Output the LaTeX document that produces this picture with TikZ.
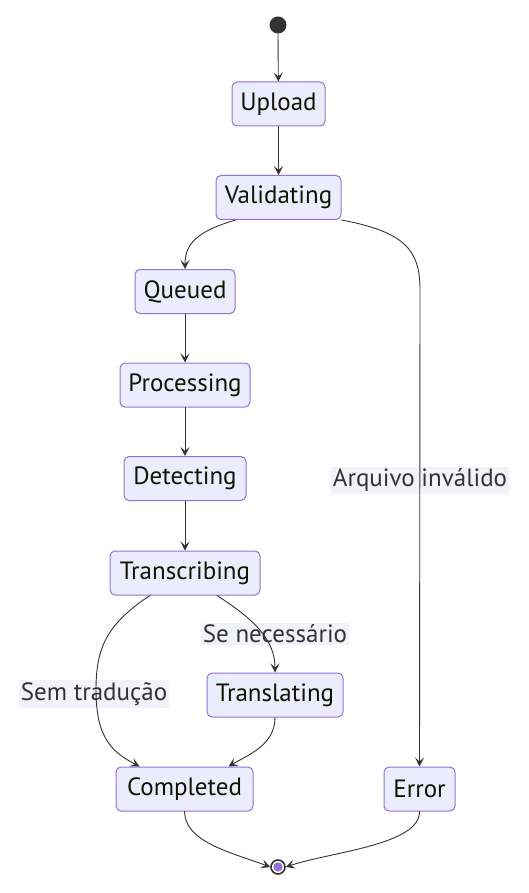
\documentclass[tikz,border=0pt]{standalone}
\usepackage{fontspec}
\setmainfont{PT Sans}
\usepackage{tikz}
\usetikzlibrary{arrows.meta}
\definecolor{nodefill}{HTML}{ECECFF}
\definecolor{nodeline}{HTML}{9370DB}
\definecolor{edgeline}{HTML}{333333}
\definecolor{lblfill}{HTML}{F2F2FA}
\definecolor{txt}{HTML}{131300}
\begin{document}
\begin{tikzpicture}[line cap=round,line join=round,x=1pt,y=-1pt,
  >={Stealth[length=9pt,width=9pt,inset=4pt]},
  state/.style={draw=nodeline,fill=nodefill,line width=1pt,rounded corners=5pt,
    minimum height=44pt,inner sep=0pt,text=txt,font=\fontsize{25}{29}\selectfont},
  lbl/.style={fill=lblfill,inner sep=2pt,text=edgeline,font=\fontsize{25}{29}\selectfont},
  edge/.style={->,draw=edgeline,line width=0.9pt}]
\useasboundingbox (0,0) rectangle (528,893);
% states
\foreach \nm/\cx/\cy/\w/\txt in {upload/278.5/104/93/Upload,valid/278.5/197.5/125/Validating,
  queued/185/291.5/100/Queued,proc/185/385/130/Processing,detect/185/478.5/122/Detecting,
  trans/185/573/150/Transcribing,transl/275/695/136/Translating,compl/184.5/789/137/Completed,
  error/419.5/789/71/Error}
  \node[state,minimum width=\w] (\nm) at (\cx,\cy) {\txt};
\fill[edgeline] (278,25) circle (8.5);
\coordinate (start) at (278,33.5);
\node[circle,draw=edgeline,line width=1.6pt,fill=white,minimum size=14pt,inner sep=0pt] (end) at (278,867) {};
\fill[nodeline] (end) circle (4.6);
% edge labels
\node[lbl] (lerr) at (420,480) {Arquivo inválido};
\node[lbl] (lnec) at (275,634) {Se necessário};
\node[lbl] (lsem) at (94,694) {Sem tradução};
% transitions
\draw[edge] (start) -- (upload);
\draw[edge] (upload) -- (valid);
\draw[edge] (queued.east |- valid.south) .. controls (195,232) and (185,245) .. (queued.north);
\draw[edge] (valid.south east) .. controls (405,232) and (420,250) .. (420,290) -- (error.north);
\draw[edge] (queued) -- (proc);
\draw[edge] (proc) -- (detect);
\draw[edge] (detect) -- (trans);
\draw[edge] ([xshift=-35pt]trans.south) .. controls (105,625) and (96,650) .. (96,690)
  .. controls (96,738) and (112,752) .. ([xshift=-45pt]compl.north);
\draw[edge] ([xshift=32pt]trans.south) .. controls (255,620) and (275,640) .. (transl.north);
\draw[edge] (transl.south) .. controls (275,745) and (248,755) .. ([xshift=44pt]compl.north);
\draw[edge] (compl.south) .. controls (185,842) and (230,852) .. (end.west);
\draw[edge] (error.south) .. controls (420,845) and (330,852) .. (end.east);
\end{tikzpicture}
\end{document}
